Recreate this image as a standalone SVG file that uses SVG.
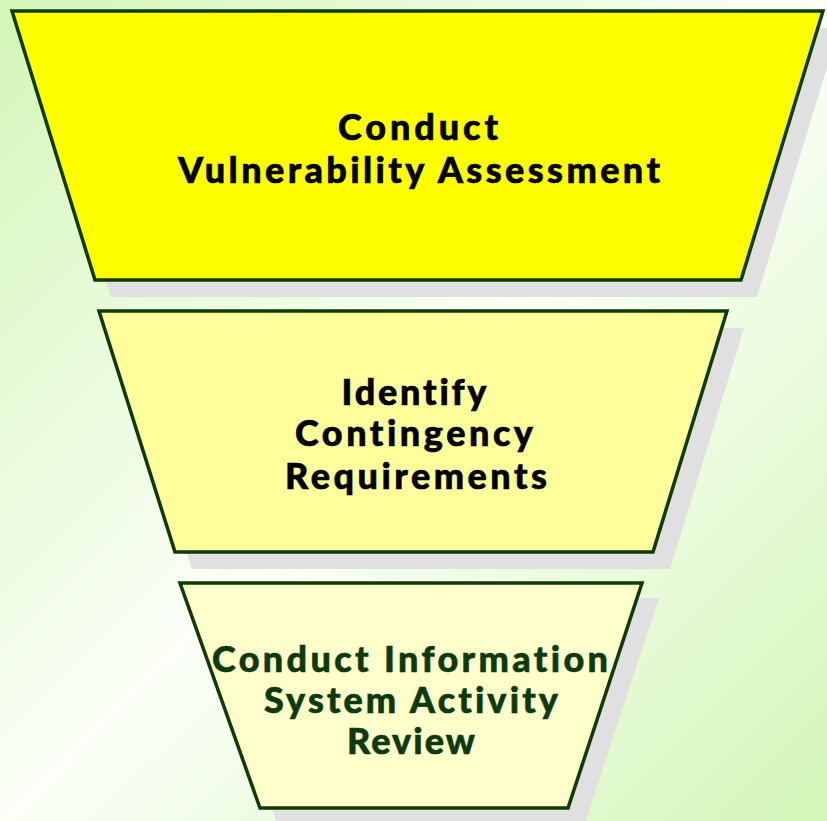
<svg xmlns="http://www.w3.org/2000/svg" width="827" height="821" viewBox="0 0 827 821">
<defs>
<linearGradient id="bg" x1="0" y1="0" x2="827" y2="821" gradientUnits="userSpaceOnUse">
<stop offset="0" stop-color="#d3f6b8"/>
<stop offset="0.5" stop-color="#fbfff7"/>
<stop offset="1" stop-color="#d3f6b8"/>
</linearGradient>
<style>
.shadow{fill:#e0e0e0}
.box{stroke:#0f3a06;stroke-width:3.5;stroke-linejoin:miter}
.t{font-family:Lato,"Liberation Sans","DejaVu Sans",sans-serif;font-weight:900;font-size:36px;text-anchor:middle;font-variant-ligatures:none;font-feature-settings:"liga" 0;stroke-width:0.6px}
.k{fill:#000000;stroke:#000000}
.g{fill:#0c3a0c;stroke:#0c3a0c}
</style>
</defs>
<rect x="0" y="0" width="827" height="821" fill="url(#bg)"/>
<g id="node1">
<polygon class="shadow" points="28,28 839,28 757,297 111,297"/>
<polygon class="box" fill="#ffff00" points="12,11 823,11 741,280 95,280"/>
<text class="t k" x="418" y="140" textLength="160" lengthAdjust="spacing">Conduct</text>
<text class="t k" x="419" y="183" textLength="482" lengthAdjust="spacing">Vulnerability Assessment</text>
</g>
<g id="node2">
<polygon class="shadow" points="116,328 744,328 670,569 192,569"/>
<polygon class="box" fill="#ffff9c" points="99,311 727,311 653,552 175,552"/>
<text class="t k" x="414" y="405" textLength="145" lengthAdjust="spacing">Identify</text>
<text class="t k" x="414" y="446" textLength="238" lengthAdjust="spacing">Contingency</text>
<text class="t k" x="416" y="489" textLength="262" lengthAdjust="spacing">Requirements</text>
</g>
<g id="node3">
<polygon class="shadow" points="197,598 659,598 585,823 277,823"/>
<polygon class="box" fill="#ffffcc" points="180,583 642,583 568,808 260,808"/>
<text class="t g" x="410" y="672" textLength="396" lengthAdjust="spacing">Conduct Information</text>
<text class="t g" x="411" y="713" textLength="294" lengthAdjust="spacing">System Activity</text>
<text class="t g" x="411" y="754" textLength="128" lengthAdjust="spacing">Review</text>
</g>
<g id="connectors"/>
</svg>
